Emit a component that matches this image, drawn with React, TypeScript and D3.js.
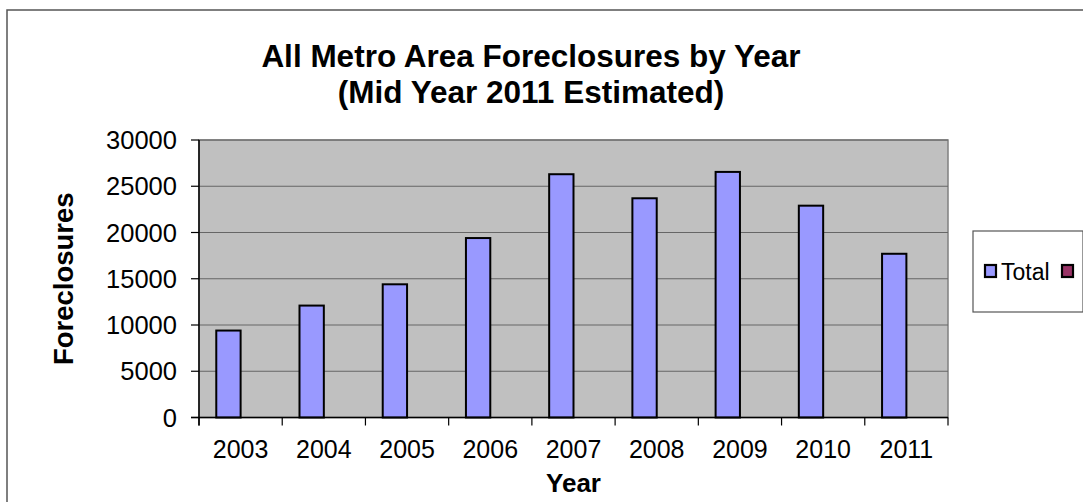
import React from "react";
import * as d3 from "d3";

const years = ["2003", "2004", "2005", "2006", "2007", "2008", "2009", "2010", "2011"];
const totalValues = [9400, 12100, 14400, 19400, 26300, 23700, 26550, 22900, 17700];
const seriesNames = ["Total", ""];
const seriesColors = ["#9999FF", "#993366"];
const yTicks = [0, 5000, 10000, 15000, 20000, 25000, 30000];
const titleLines = ["All Metro Area Foreclosures by Year", "(Mid Year 2011 Estimated)"];

const W = 1083;
const H = 502;
const plot = { left: 199, right: 948, top: 140, bottom: 417.5 };
const FONT = "'Liberation Sans', Arial, sans-serif";

export default function App() {
  const y = d3.scaleLinear().domain([0, 30000]).range([plot.bottom, plot.top]);
  const x0 = d3.scaleBand<string>().domain(years).range([plot.left, plot.right]).padding(0);
  const x1 = d3
    .scaleBand<string>()
    .domain(["s0", "s1"])
    .range([0, x0.bandwidth()])
    .paddingInner(0)
    .paddingOuter(0.71);

  const boundaries = years.map((yr) => x0(yr) as number).concat([plot.right]);

  return (
    <svg
      width={W}
      height={H}
      style={{ position: "absolute", left: 0, top: 0, background: "#fff" }}
      fontFamily={FONT}
    >
      <rect x={0} y={0} width={W} height={H} fill="#fff" />
      {/* outer chart border */}
      <rect x={7} y={10} width={1110} height={520} fill="none" stroke="#555" strokeWidth={1.5} />

      {/* title */}
      {titleLines.map((t, i) => (
        <text
          key={i}
          x={531}
          y={67 + i * 36}
          textAnchor="middle"
          fontSize={31.5}
          fontWeight="bold"
          fill="#000"
        >
          {t}
        </text>
      ))}

      {/* plot area */}
      <rect
        x={plot.left}
        y={plot.top}
        width={plot.right - plot.left}
        height={plot.bottom - plot.top}
        fill="#C0C0C0"
        stroke="#808080"
        strokeWidth={1.5}
      />
      {/* gridlines */}
      {yTicks.slice(1).map((t) => (
        <line
          key={t}
          x1={plot.left}
          x2={plot.right}
          y1={y(t)}
          y2={y(t)}
          stroke="#666"
          strokeWidth={1.2}
        />
      ))}

      {/* bars */}
      {years.map((yr, i) => {
        const bx = (x0(yr) as number) + (x1("s0") as number);
        const by = y(totalValues[i]);
        return (
          <rect
            key={yr}
            x={bx}
            y={by}
            width={x1.bandwidth()}
            height={plot.bottom - by}
            fill={seriesColors[0]}
            stroke="#000"
            strokeWidth={2}
          />
        );
      })}

      {/* axes */}
      <line x1={plot.left} x2={plot.left} y1={plot.top} y2={plot.bottom + 8} stroke="#000" strokeWidth={1.5} />
      <line x1={plot.left - 8} x2={plot.right} y1={plot.bottom} y2={plot.bottom} stroke="#000" strokeWidth={1.5} />
      {yTicks.map((t) => (
        <g key={t}>
          <line x1={plot.left - 8} x2={plot.left} y1={y(t)} y2={y(t)} stroke="#000" strokeWidth={1.2} />
          <text x={177} y={y(t) + 9} textAnchor="end" fontSize={25.5} fill="#000">
            {t}
          </text>
        </g>
      ))}
      {boundaries.map((bx, i) => (
        <line key={i} x1={bx} x2={bx} y1={plot.bottom} y2={plot.bottom + 8} stroke="#000" strokeWidth={1.2} />
      ))}
      {years.map((yr) => (
        <text
          key={yr}
          x={(x0(yr) as number) + x0.bandwidth() / 2}
          y={458}
          textAnchor="middle"
          fontSize={25}
          fill="#000"
        >
          {yr}
        </text>
      ))}

      {/* axis titles */}
      <text x={(plot.left + plot.right) / 2} y={492} textAnchor="middle" fontSize={26} fontWeight="bold">
        Year
      </text>
      <text
        transform={`translate(73, ${(plot.top + plot.bottom) / 2}) rotate(-90)`}
        textAnchor="middle"
        fontSize={27.5}
        fontWeight="bold"
      >
        Foreclosures
      </text>

      {/* legend */}
      <rect x={973} y={231} width={110} height={81} fill="#fff" stroke="#555" strokeWidth={1.2} />
      <rect x={985} y={265} width={11} height={12} fill={seriesColors[0]} stroke="#000" strokeWidth={2.2} />
      <text x={1001} y={280} fontSize={23} fill="#000">
        {seriesNames[0]}
      </text>
      <rect x={1062} y={265} width={11} height={12} fill={seriesColors[1]} stroke="#000" strokeWidth={2.2} />
    </svg>
  );
}
